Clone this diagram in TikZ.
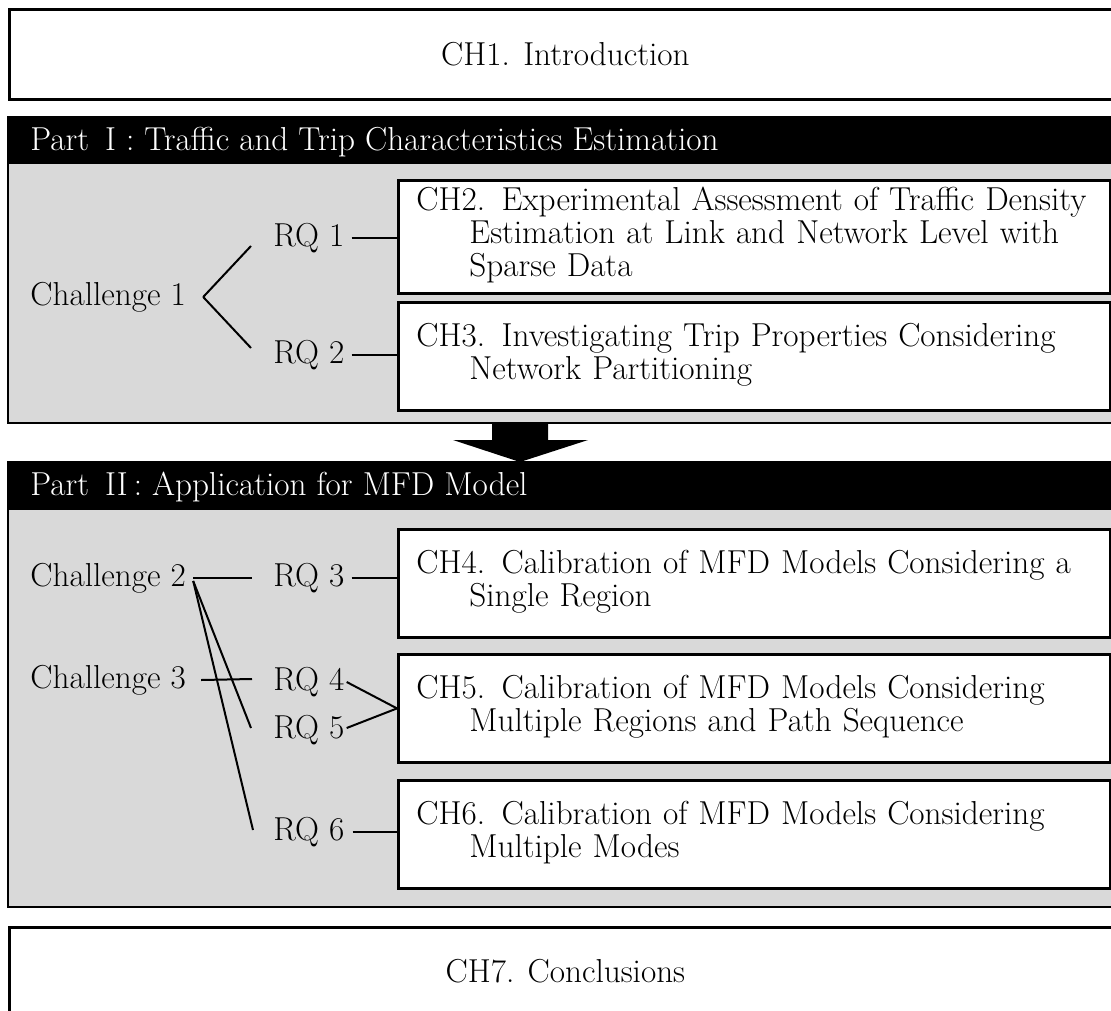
\documentclass[tikz,border=0pt]{standalone}
\usepackage{xcolor}
\usepackage{tikz}
\usetikzlibrary{calc}
\definecolor{panelgray}{RGB}{217,217,217}
\newcommand{\chind}{\hspace*{26.5pt}}

\begin{document}
\begin{tikzpicture}[x=0.5pt, y=-0.5pt,
  every node/.style={font=\fontsize{16.6}{16.5}\selectfont},
  chbox/.style={draw, fill=white, line width=1.4pt, anchor=north west, minimum height=54pt, text width=338pt, inner xsep=9pt, align=left},
  bigbox/.style={draw, fill=white, line width=1.4pt, anchor=north west, minimum width=556pt, align=center},
  lefttext/.style={inner sep=0pt, anchor=west},
  link/.style={line width=1pt}]
  \clip (0,0) rectangle (1111,1010);
  \node[bigbox, minimum height=45pt] (ch1) at (8,8) {CH1. Introduction};
  \filldraw[fill=panelgray, line width=1.4pt] (8,117) rectangle (1125,423);
  \fill[black] (8,117) rectangle (1125,164);
  \node[lefttext, text=white] (p1) at (30,142) {Part\hspace{8pt}I\hspace{5pt}:\hspace{5pt}Traffic and Trip Characteristics Estimation};
  \node[chbox] (ch2) at (397,179) {\noindent\begin{tabular}{@{}l@{}}CH2. Experimental Assessment of Traffic Density\\\chind Estimation at Link and Network Level with\\\chind Sparse Data\end{tabular}};
  \node[chbox] (ch3) at (397,301) {\noindent\begin{tabular}{@{}l@{}}CH3. Investigating Trip Properties Considering\\\chind Network Partitioning\end{tabular}};
  \node[lefttext] (c1) at (30,297) {Challenge 1};
  \node[lefttext] (rq1) at (273,238) {RQ 1};
  \node[lefttext] (rq2) at (273,355) {RQ 2};
  \draw[link] ([xshift=8.5pt]c1.east) -- ([xshift=-11pt,yshift=-4pt]rq1.west);
  \draw[link] ([xshift=8.5pt]c1.east) -- ([xshift=-11pt,yshift=3.5pt]rq2.west);
  \draw[link] ([xshift=3.5pt]rq1.east) -- (rq1.east -| ch2.west);
  \draw[link] ([xshift=3.5pt]rq2.east) -- (rq2.east -| ch3.west);
  \fill[black] (492,423) -- (548,423) -- (548,440) -- (588,440) -- (520,462) -- (453,440) -- (492,440) -- cycle;
  \filldraw[fill=panelgray, line width=1.4pt] (8,462) rectangle (1125,907);
  \fill[black] (8,462) rectangle (1125,510);
  \node[lefttext, text=white] (p2) at (30,487) {Part\hspace{8pt}II\hspace{3pt}:\hspace{5pt}Application for MFD Model};
  \node[chbox] (ch4) at (397,528) {\noindent\begin{tabular}{@{}l@{}}CH4. Calibration of MFD Models Considering a\\\chind Single Region\end{tabular}};
  \node[chbox] (ch5) at (397,653) {\noindent\begin{tabular}{@{}l@{}}CH5. Calibration of MFD Models Considering\\\chind Multiple Regions and Path Sequence\end{tabular}};
  \node[chbox] (ch6) at (397,779) {\noindent\begin{tabular}{@{}l@{}}CH6. Calibration of MFD Models Considering\\\chind Multiple Modes\end{tabular}};
  \node[lefttext] (c2) at (30,578) {Challenge 2};
  \node[lefttext] (c3) at (30,680) {Challenge 3};
  \node[lefttext] (rq3) at (273,578) {RQ 3};
  \node[lefttext] (rq4) at (273,682) {RQ 4};
  \node[lefttext] (rq5) at (273,730) {RQ 5};
  \node[lefttext] (rq6) at (273,832) {RQ 6};
  \draw[link] ([xshift=3.5pt]c2.east) -- ([xshift=-10.5pt]rq3.west);
  \draw[link] ([xshift=3.5pt,yshift=-1.5pt]c2.east) -- ([xshift=-11pt,yshift=1pt]rq5.west);
  \draw[link] ([xshift=3.5pt,yshift=-1.5pt]c2.east) -- ([xshift=-10pt,yshift=1pt]rq6.west);
  \draw[link] ([xshift=7.5pt]c3.east) -- ([xshift=-10.5pt,yshift=1.5pt]rq4.west);
  \draw[link] ([xshift=3.5pt]rq3.east) -- (rq3.east -| ch4.west);
  \draw[link] ([xshift=1pt]rq4.east) -- (ch5.west);
  \draw[link] ([xshift=1pt,yshift=1pt]rq5.east) -- (ch5.west);
  \draw[link] ([xshift=4pt]rq6.east) -- (rq6.east -| ch6.west);
  \node[bigbox, minimum height=44pt] (ch7) at (8,926) {CH7. Conclusions};
\end{tikzpicture}
\end{document}
